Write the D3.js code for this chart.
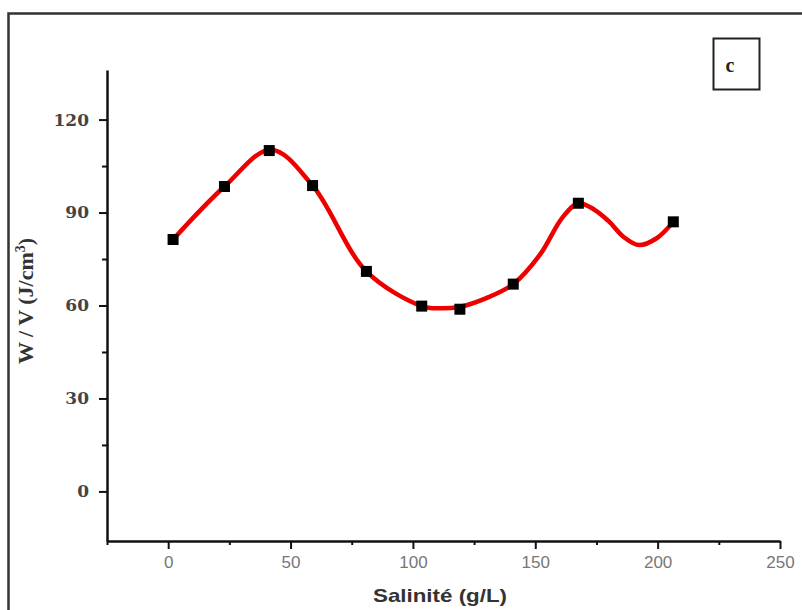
<!DOCTYPE html>
<html>
<head>
<meta charset="utf-8">
<script src="https://cdn.jsdelivr.net/npm/d3@7"></script>
<style>
  body { margin: 0; background: #fff; }
  svg { display: block; }
</style>
</head>
<body>
<svg id="chart" width="802" height="610"></svg>
<script>
'use strict'

var salinity = [2, 23, 41.3, 59, 81, 103.6, 119.2, 141, 167.6, 206.4]
var energy = [81.3, 98.4, 110, 98.7, 71, 59.8, 58.8, 66.9, 93, 87]

// the red fitted curve (it dips between the last two points)
var fitX = [2, 23, 42, 59, 81, 103.6, 111, 119.2, 130, 141, 152, 161, 167.6, 174, 180, 186, 192.5, 199.6, 206.4]
var fitY = [81.3, 98.4, 110.3, 98.7, 71, 59.8, 59.1, 59.6, 62.4, 66.9, 76.5, 88.3, 93, 91, 87.2, 82.2, 79.5, 81.7, 87]

var xMajor = [0, 50, 100, 150, 200, 250]
var xMinor = [-25, 25, 75, 125, 175, 225]
var yMajor = [0, 30, 60, 90, 120]
var yMinor = [15, 45, 75, 105]

var svg = d3.select('#chart')
var width = 802
var height = 610

var x = d3.scaleLinear().domain([-25, 250]).range([107, 780])
var y = d3.scaleLinear().domain([-16, 136]).range([541, 70])

// outer frame (right / bottom edges run off the picture)
svg.append('rect')
  .attr('x', 8.5).attr('y', 13.5)
  .attr('width', width + 20).attr('height', height + 20)
  .attr('fill', 'none')
  .attr('stroke', '#333')
  .attr('stroke-width', 2.5)

// minor ticks first so the main axes draw on top
svg.append('g')
  .attr('transform', 'translate(0,' + y(-16) + ')')
  .call(d3.axisBottom(x).tickValues(xMinor).tickSize(4).tickSizeOuter(0).tickFormat(''))
  .call((g) => g.select('.domain').remove())
  .selectAll('line').attr('stroke', '#111').attr('stroke-width', 2)

svg.append('g')
  .attr('transform', 'translate(' + x(-25) + ',0)')
  .call(d3.axisLeft(y).tickValues(yMinor).tickSize(5).tickSizeOuter(0).tickFormat(''))
  .call((g) => g.select('.domain').remove())
  .selectAll('line').attr('stroke', '#111').attr('stroke-width', 2)

// x axis
var xAxis = svg.append('g')
  .attr('transform', 'translate(0,' + y(-16) + ')')
  .call(d3.axisBottom(x).tickValues(xMajor).tickSize(8).tickSizeOuter(0).tickPadding(7))

xAxis.select('.domain').attr('stroke', '#111').attr('stroke-width', 2.5)
xAxis.selectAll('.tick line').attr('stroke', '#111').attr('stroke-width', 2)
xAxis.selectAll('.tick text')
  .attr('font-family', '"Liberation Sans", Arial, sans-serif')
  .attr('font-size', 17)
  .attr('fill', '#777')

// y axis
var yAxis = svg.append('g')
  .attr('transform', 'translate(' + x(-25) + ',0)')
  .call(d3.axisLeft(y).tickValues(yMajor).tickSize(8).tickSizeOuter(0).tickPadding(10))

yAxis.select('.domain').attr('stroke', '#111').attr('stroke-width', 2.5)
yAxis.selectAll('.tick line').attr('stroke', '#111').attr('stroke-width', 2)
yAxis.selectAll('.tick text')
  .attr('font-family', '"DejaVu Serif", serif')
  .attr('font-weight', 'bold')
  .attr('font-size', 17)
  .attr('fill', '#444')

// axis titles
svg.append('text')
  .attr('x', 440).attr('y', 602)
  .attr('text-anchor', 'middle')
  .attr('font-family', '"Liberation Sans", Arial, sans-serif')
  .attr('font-weight', 'bold')
  .attr('font-size', 19)
  .attr('fill', '#333')
  .attr('textLength', 134)
  .attr('lengthAdjust', 'spacingAndGlyphs')
  .text('Salinité (g/L)')

var yTitle = svg.append('text')
  .attr('transform', 'translate(33,301) rotate(-90)')
  .attr('text-anchor', 'middle')
  .attr('font-family', '"Liberation Serif", "Times New Roman", serif')
  .attr('font-weight', 'bold')
  .attr('font-size', 22)
  .attr('fill', '#333')
yTitle.append('tspan').text('W / V (J/cm')
yTitle.append('tspan').attr('dy', -8).attr('font-size', 14).text('3')
yTitle.append('tspan').attr('dy', 8).text(')')

// panel letter
svg.append('rect')
  .attr('x', 713.5).attr('y', 38.5)
  .attr('width', 46).attr('height', 51)
  .attr('fill', 'none')
  .attr('stroke', '#222')
  .attr('stroke-width', 2)
svg.append('text')
  .attr('x', 730).attr('y', 72)
  .attr('text-anchor', 'middle')
  .attr('font-family', '"Liberation Serif", serif')
  .attr('font-weight', 'bold')
  .attr('font-size', 20)
  .attr('fill', '#222')
  .text('c')

// fitted curve
var fit = fitX.map((s, i) => [s, fitY[i]])
var line = d3.line()
  .x((d) => x(d[0]))
  .y((d) => y(d[1]))
  .curve(d3.curveCatmullRom.alpha(0.5))

svg.append('path')
  .datum(fit)
  .attr('d', line)
  .attr('fill', 'none')
  .attr('stroke', '#ee0000')
  .attr('stroke-width', 4.5)

// data markers
var pts = salinity.map((s, i) => [s, energy[i]])
svg.append('g')
  .selectAll('rect')
  .data(pts)
  .enter().append('rect')
    .attr('x', (d) => x(d[0]) - 5.5)
    .attr('y', (d) => y(d[1]) - 5.5)
    .attr('width', 11)
    .attr('height', 11)
    .attr('fill', '#000')
</script>
</body>
</html>
